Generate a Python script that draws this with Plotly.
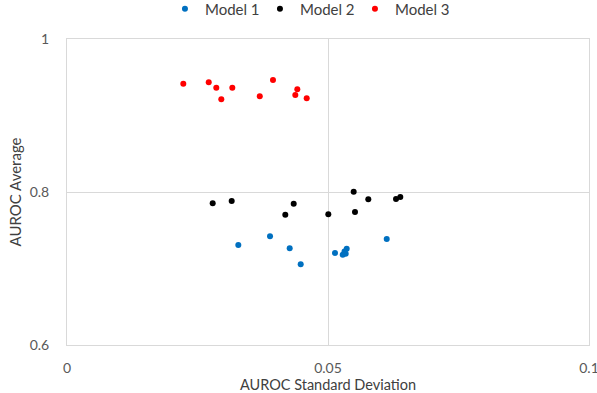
import plotly.graph_objects as go

model1_sd = [0.03282, 0.03889, 0.04266, 0.04477, 0.05134, 0.05282, 0.05339, 0.05358, 0.05316, 0.06125]
model1_avg = [0.7307, 0.7421, 0.7264, 0.7055, 0.7203, 0.7180, 0.7193, 0.7259, 0.7222, 0.7386]

model2_sd = [0.02791, 0.03155, 0.04343, 0.04182, 0.05006, 0.05492, 0.05517, 0.05772, 0.06303, 0.06385]
model2_avg = [0.7852, 0.7882, 0.7847, 0.7703, 0.7708, 0.8004, 0.7739, 0.7905, 0.7908, 0.7935]

model3_sd = [0.02228, 0.02715, 0.02860, 0.02956, 0.03167, 0.03693, 0.03946, 0.04412, 0.04374, 0.04592]
model3_avg = [0.9416, 0.9434, 0.9363, 0.9212, 0.9363, 0.9252, 0.9464, 0.9342, 0.9268, 0.9225]

x_ticks = [0, 0.05, 0.1]
x_tick_labels = ["0", "0.05", "0.1"]
y_ticks = [0.6, 0.8, 1.0]
y_tick_labels = ["0.6", "0.8", "1"]

font = "Lato, 'Open Sans', sans-serif"

fig = go.Figure()
for name, xs, ys, color in [
    ("Model 1", model1_sd, model1_avg, "#0070C0"),
    ("Model 2", model2_sd, model2_avg, "#000000"),
    ("Model 3", model3_sd, model3_avg, "#FF0000"),
]:
    fig.add_trace(go.Scatter(x=xs, y=ys, mode="markers", name=name,
                             marker=dict(size=6, color=color)))

fig.update_layout(
    width=597, height=393,
    margin=dict(l=67, r=8, t=39, b=48, autoexpand=False),
    paper_bgcolor="white", plot_bgcolor="white",
    font=dict(family=font, color="#595959", size=14),
    showlegend=True,
    legend=dict(orientation="h", x=0.515, xanchor="center", xref="container",
                y=0.977, yanchor="middle", yref="container",
                font=dict(size=15, color="#404040"),
                entrywidth=50, entrywidthmode="pixels",
                tracegroupgap=0, bgcolor="rgba(0,0,0,0)"),
)

fig.update_xaxes(range=[0, 0.1], tickvals=x_ticks, ticktext=x_tick_labels,
                 showgrid=True, gridcolor="#D9D9D9", gridwidth=1, zeroline=False,
                 showline=True, linecolor="#D9D9D9", mirror=True, automargin=False,
                 ticks="", ticklabelstandoff=10, ticklabeloverflow="allow",
                 title=dict(text="AUROC Standard Deviation", font=dict(size=14.5, color="#404040"), standoff=3))
fig.update_yaxes(range=[0.6, 1.0], tickvals=y_ticks, ticktext=y_tick_labels,
                 showgrid=True, gridcolor="#D9D9D9", gridwidth=1, zeroline=False,
                 showline=True, linecolor="#D9D9D9", mirror=True, automargin=False,
                 ticks="", ticklabelstandoff=14, ticklabeloverflow="allow",
                 title=dict(text="AUROC Average", font=dict(size=15, color="#404040"), standoff=4))

fig.write_html("out.html", config={"displayModeBar": False},
               post_script="document.body.style.margin='0';")
